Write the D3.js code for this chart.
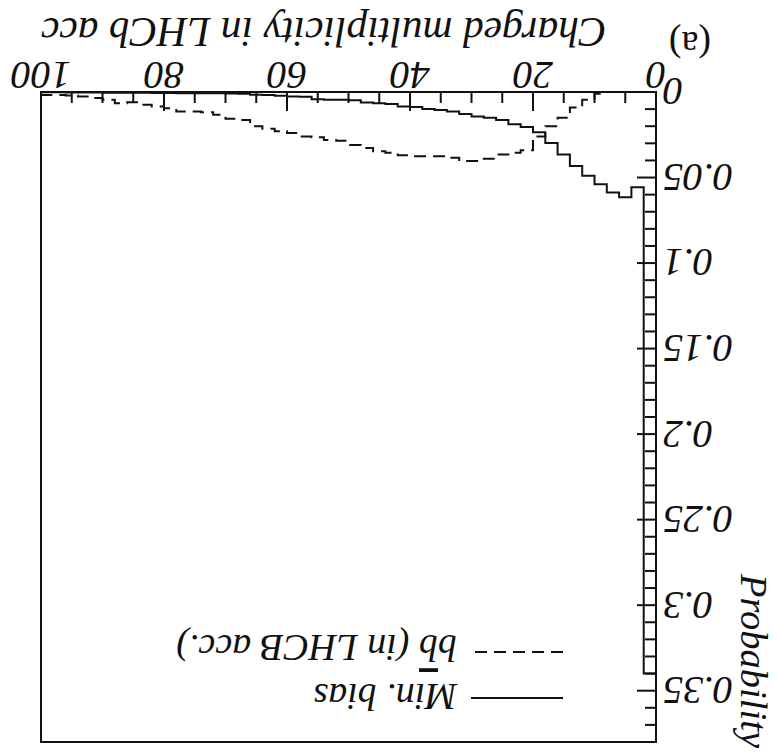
<!DOCTYPE html>
<html>
<head>
<meta charset="utf-8">
<script src="https://cdn.jsdelivr.net/npm/d3@7"></script>
<style>
  html, body { margin: 0; padding: 0; background: #fff; }
  svg { display: block; }
  text { font-family: "Liberation Serif", "DejaVu Serif", serif; fill: #111; }
</style>
</head>
<body>
<svg id="chart" width="777" height="754"></svg>
<script>
// Lower edges of the 2-unit multiplicity bins
const binLow = [0,2,4,6,8,10,12,14,16,18,20,22,24,26,28,30,32,34,36,38,40,42,44,46,48,
                50,52,54,56,58,60,62,64,66,68,70,72,74,76,78,80,82,84,86,88,90,92,94,96,98];
const binWidth = 2;

// Minimum-bias charged multiplicity (probability per bin)
const minBias = [0.340,0.0557,0.0615,0.0588,0.0540,0.0490,0.0433,0.0366,0.0298,0.0235,
                 0.0205,0.0188,0.0163,0.0150,0.0143,0.0129,0.0114,0.0105,0.0099,0.0088,
                 0.0085,0.0070,0.0066,0.0062,0.0048,0.0046,0.0045,0.0043,0.0028,0.0027,
                 0.0022,0.0018,0.0016,0.0010,0.0009,0.0008,0.0008,0.0007,0.0007,0.0006,
                 0.0006,0.0005,0.0005,0.0004,0.0004,0.0003,0.0003,0.0003,0.0002,0.0002];

// b-bbar events with the pair inside the LHCb acceptance
const bbInAcc = [0,0,0,0,0.0010,0.0046,0.0091,0.0150,0.0200,0.0260,
                 0.0340,0.0355,0.0366,0.0390,0.0404,0.0404,0.0385,0.0375,0.0375,0.0375,
                 0.0370,0.0355,0.0346,0.0327,0.0310,0.0285,0.0280,0.0265,0.0260,0.0240,
                 0.0230,0.0215,0.0200,0.0163,0.0157,0.0133,0.0118,0.0114,0.0114,0.0095,
                 0.0085,0.0075,0.0060,0.0066,0.0046,0.0035,0.0027,0.0020,0.0017,0.0017];

const xMajorTicks = [0,20,40,60,80,100];
const xTickLabels = ["0","20","40","60","80","100"];
const yMajorTicks = [0,0.05,0.1,0.15,0.2,0.25,0.3,0.35];
const yTickLabels = ["0","0.05","0.1","0.15","0.2","0.25","0.3","0.35"];

const legendLabels = ["Min. bias", "b", "b", " (in LHCB acc.)"];
const xTitle = "Charged multiplicity in LHCb acc";
const yTitle = "Probability";
const panelTag = "(a)";

const W = 777, H = 754;
const frame = { left: 121, right: 736, top: 12, bottom: 662 };

const svg = d3.select("#chart");
// The whole figure is turned upside down
const root = svg.append("g").attr("transform", `rotate(180, ${W/2}, ${H/2})`);

const x = d3.scaleLinear().domain([0, 100]).range([frame.left, frame.right]);
const y = d3.scaleLinear().domain([0, 0.38]).range([frame.bottom, frame.top]);

const ink = "#111";

// Frame
root.append("rect")
  .attr("x", frame.left).attr("y", frame.top)
  .attr("width", frame.right - frame.left).attr("height", frame.bottom - frame.top)
  .attr("fill", "none").attr("stroke", ink).attr("stroke-width", 2);

// X axis ticks (inward)
const xMinor = d3.range(0, 100.001, 5);
root.append("g").selectAll("line").data(xMinor).join("line")
  .attr("x1", d => x(d)).attr("x2", d => x(d))
  .attr("y1", frame.bottom)
  .attr("y2", d => frame.bottom - (xMajorTicks.includes(d) ? 19 : 11))
  .attr("stroke", ink).attr("stroke-width", 2);
root.append("g").selectAll("text").data(xMajorTicks).join("text")
  .attr("x", d => x(d)).attr("y", frame.bottom + 30)
  .attr("text-anchor", "middle").attr("font-size", 40).attr("font-style", "italic")
  .text((d, i) => xTickLabels[i]);

// Y axis ticks (inward)
const yMinor = d3.range(0, 38).map(i => i / 100);
root.append("g").selectAll("line").data(yMinor).join("line")
  .attr("y1", d => y(d)).attr("y2", d => y(d))
  .attr("x1", frame.left)
  .attr("x2", d => frame.left + (Math.round(d * 100) % 5 === 0 ? 19 : 11))
  .attr("stroke", ink).attr("stroke-width", 2);
root.append("g").selectAll("text").data(yMajorTicks).join("text")
  .attr("x", frame.left - 7).attr("y", d => y(d))
  .attr("dy", "0.34em")
  .attr("text-anchor", "end").attr("font-size", 40).attr("font-style", "italic")
  .text((d, i) => yTickLabels[i]);

// Axis titles
root.append("text")
  .attr("x", frame.right).attr("y", 736)
  .attr("text-anchor", "end").attr("font-size", 41.5).attr("font-style", "italic")
  .text(xTitle);
root.append("text")
  .attr("transform", `translate(36, 6) rotate(-90)`)
  .attr("text-anchor", "end").attr("font-size", 38.5).attr("font-style", "italic")
  .text(yTitle);

// Panel tag
root.append("text")
  .attr("x", 87).attr("y", 722)
  .attr("text-anchor", "middle").attr("font-size", 38)
  .text(panelTag);

// Histograms as step outlines
function stepPoints(values) {
  const pts = [[binLow[0], 0]];
  values.forEach((v, i) => {
    pts.push([binLow[i], v]);
    pts.push([binLow[i] + binWidth, v]);
  });
  pts.push([binLow[binLow.length - 1] + binWidth, 0]);
  return pts;
}
const line = d3.line().x(d => x(d[0])).y(d => y(d[1]));

root.append("path")
  .attr("d", line(stepPoints(minBias)))
  .attr("fill", "none").attr("stroke", ink).attr("stroke-width", 2);
root.append("path")
  .attr("d", line(stepPoints(bbInAcc)))
  .attr("fill", "none").attr("stroke", ink).attr("stroke-width", 2)
  .attr("stroke-dasharray", "12,7");

// Legend
const lg = root.append("g");
lg.append("line").attr("x1", 214).attr("x2", 306).attr("y1", 56).attr("y2", 56)
  .attr("stroke", ink).attr("stroke-width", 2);
lg.append("text").attr("x", 320).attr("y", 70)
  .attr("font-size", 38).attr("font-style", "italic").text(legendLabels[0]);
lg.append("line").attr("x1", 214).attr("x2", 306).attr("y1", 102).attr("y2", 102)
  .attr("stroke", ink).attr("stroke-width", 2).attr("stroke-dasharray", "12,7");
const t2 = lg.append("text").attr("x", 320).attr("y", 119)
  .attr("font-size", 38).attr("font-style", "italic");
t2.append("tspan").text(legendLabels[1]);
t2.append("tspan").attr("text-decoration", "overline").text(legendLabels[2]);
t2.append("tspan").text(legendLabels[3]);
</script>
</body>
</html>
